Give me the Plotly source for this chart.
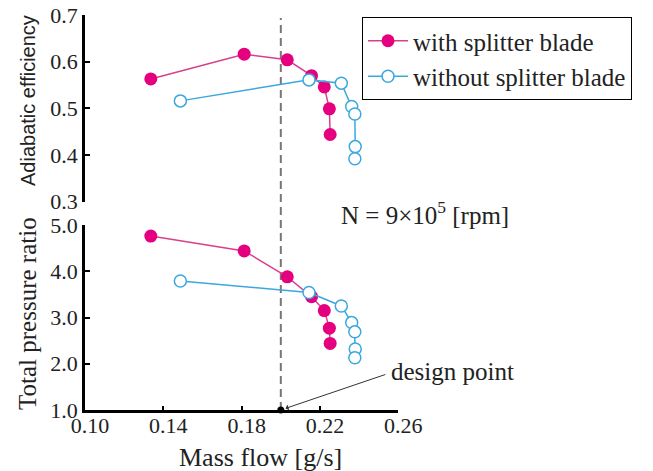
import plotly.graph_objects as go

# ---- data ----
flow_with = [0.1336, 0.1813, 0.2033, 0.2157, 0.2222, 0.2248, 0.2252]
eff_with = [0.563, 0.616, 0.604, 0.570, 0.546, 0.499, 0.444]
pr_with = [4.76, 4.44, 3.88, 3.45, 3.15, 2.77, 2.44]

flow_without = [0.1487, 0.2144, 0.2309, 0.2362, 0.2378, 0.2380, 0.2378]
eff_without = [0.516, 0.561, 0.554, 0.504, 0.488, 0.418, 0.392]
pr_without = [3.79, 3.54, 3.25, 2.89, 2.69, 2.32, 2.13]

design_flow = [0.20]
design_pr = [1.0]

x_ticks = [0.10, 0.14, 0.18, 0.22, 0.26]
eff_ticks = [0.3, 0.4, 0.5, 0.6, 0.7]
pr_ticks = [1.0, 2.0, 3.0, 4.0, 5.0]

MAG = "#E4007F"
MAG_LINE = "#D9408A"
CYAN = "#3AA8DE"
SERIF = "Liberation Serif, Times New Roman, serif"
SANS = "Liberation Sans, Arial, sans-serif"

W, H = 653, 471
def px(x):
    return x / W
def py(y):
    return 1 - y / H

fig = go.Figure()

fig.add_trace(go.Scatter(
    x=flow_with, y=eff_with, mode="lines+markers", name="with splitter blade",
    line=dict(color=MAG_LINE, width=1.5),
    marker=dict(symbol="circle", size=13, color=MAG, line=dict(width=0)),
    xaxis="x", yaxis="y", legendrank=1))
fig.add_trace(go.Scatter(
    x=flow_without, y=eff_without, mode="lines+markers", name="without splitter blade",
    line=dict(color=CYAN, width=1.5),
    marker=dict(symbol="circle", size=12, color="white", line=dict(color=CYAN, width=1.5)),
    xaxis="x", yaxis="y", legendrank=2))
fig.add_trace(go.Scatter(
    x=flow_with, y=pr_with, mode="lines+markers", showlegend=False,
    line=dict(color=MAG_LINE, width=1.5),
    marker=dict(symbol="circle", size=13, color=MAG, line=dict(width=0)),
    xaxis="x2", yaxis="y2"))
fig.add_trace(go.Scatter(
    x=flow_without, y=pr_without, mode="lines+markers", showlegend=False,
    line=dict(color=CYAN, width=1.5),
    marker=dict(symbol="circle", size=12, color="white", line=dict(color=CYAN, width=1.5)),
    xaxis="x2", yaxis="y2"))
fig.add_trace(go.Scatter(
    x=design_flow, y=design_pr, mode="markers", showlegend=False,
    marker=dict(size=7, color="black"), cliponaxis=False,
    xaxis="x2", yaxis="y2"))

xdom = [px(85), px(398.3)]
axis_common = dict(showgrid=False, zeroline=False, showline=True, linecolor="black",
                   linewidth=2.5, ticks="inside", tickcolor="black", automargin=False,
                   tickfont=dict(family=SERIF, size=22, color="#222"))

fig.update_layout(
    template="none",
    width=W, height=H,
    margin=dict(l=0, r=0, t=0, b=0, pad=0),
    paper_bgcolor="white", plot_bgcolor="white",
    font=dict(family=SERIF, color="#222"),
    xaxis=dict(domain=xdom, range=[0.10, 0.26], visible=False, anchor="y", automargin=False),
    yaxis=dict(domain=[py(201.7), py(15)], range=[0.3, 0.7], tickvals=eff_ticks,
               tickformat=".1f", ticklen=5, tickwidth=2, anchor="x", **axis_common),
    xaxis2=dict(domain=xdom, range=[0.10, 0.26], tickvals=x_ticks, tickformat=".2f",
                ticklen=4, tickwidth=2, anchor="y2", ticklabelshift=5,
                ticklabelstandoff=-6, **axis_common),
    yaxis2=dict(domain=[py(410), py(225)], range=[1.0, 5.0], tickvals=pr_ticks,
                tickformat=".1f", ticklen=5, tickwidth=2, anchor="x2", **axis_common),
    legend=dict(x=px(362), y=py(17), xanchor="left", yanchor="top",
                bordercolor="black", borderwidth=1, bgcolor="white",
                font=dict(family=SERIF, size=25, color="#222"),
                itemwidth=40, tracegroupgap=0),
    showlegend=True,
)

fig.add_shape(type="line", xref="x2", yref="paper", x0=0.20, x1=0.20,
              y0=py(410), y1=py(18), line=dict(color="#777", width=2, dash="8px,5px"),
              layer="below")

def label(x, y, text, size, family=SERIF, angle=0, xanchor="center"):
    fig.add_annotation(xref="paper", yref="paper", x=px(x), y=py(y), text=text,
                       textangle=angle, showarrow=False, xanchor=xanchor, yanchor="middle",
                       font=dict(family=family, size=size, color="#222"))

label(28, 101, "Adiabatic efficiency", 20, family=SANS, angle=-90)
label(27, 314, "Total pressure ratio", 25, angle=-90)
label(260, 457, "Mass flow [g/s]", 26)
label(339, 213, "N = 9×10<sup>5</sup> [rpm]", 25, xanchor="left")
label(389, 371, "design point", 25, xanchor="left")

fig.add_annotation(xref="x2", yref="y2", x=design_flow[0], y=design_pr[0],
                   ax=106, ay=-36, text="", showarrow=True, arrowhead=1,
                   arrowsize=1, arrowwidth=1, arrowcolor="#333", standoff=5)

fig.write_html("out.html", config={"displayModeBar": False},
               post_script="document.body.style.margin='0';")
